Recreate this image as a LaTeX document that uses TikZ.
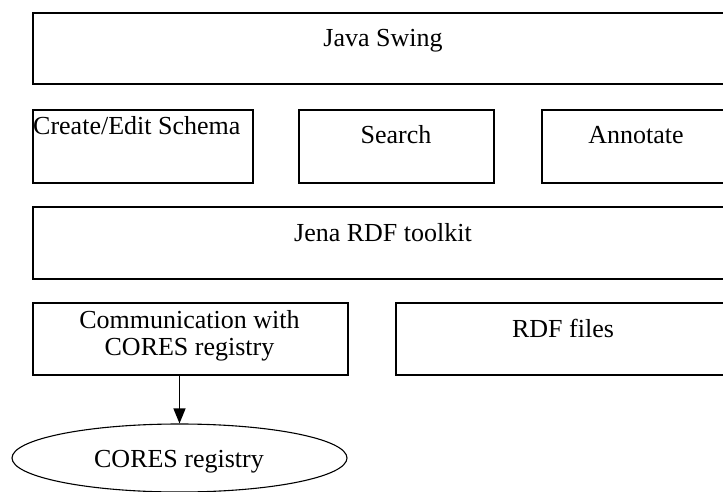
\documentclass[tikz,border=0pt]{standalone}
\usepackage{fontspec}
\setmainfont{Liberation Serif}
\usetikzlibrary{arrows.meta,shapes.geometric}
\begin{document}
\begin{tikzpicture}[x=1pt,y=-1pt,
  box/.style={draw=black,line width=1.6pt,rectangle,inner sep=0pt,anchor=north west},
  lbl/.style={inner sep=0pt,anchor=base,font=\fontsize{26}{27}\selectfont},
  conn/.style={line width=1.3pt,-{Triangle[length=15pt,width=12pt]}}]
\useasboundingbox (0,0) rectangle (723,492);
\clip (0,0) rectangle (723,492);
\fill[white] (0,0) rectangle (723,492);
% boxes
\node[box,minimum width=702pt,minimum height=71pt] (swing) at (32,12) {};
\node[box,minimum width=220pt,minimum height=73pt] (create) at (32,109) {};
\node[box,minimum width=195pt,minimum height=73pt] (search) at (298,109) {};
\node[box,minimum width=192pt,minimum height=73pt] (annot) at (541,109) {};
\node[box,minimum width=702pt,minimum height=72pt] (jena) at (32,206) {};
\node[box,minimum width=315pt,minimum height=72pt] (comm) at (32,302) {};
\node[box,minimum width=338pt,minimum height=72pt] (rdf) at (395,302) {};
\node[draw=black,line width=1.1pt,ellipse,minimum width=335pt,minimum height=68pt,inner sep=0pt] (cores) at (179.5,458) {};
% texts
\node[lbl] (tswing) at (383,47) {Java Swing};
\node[lbl,anchor=base west] (tcreate) at (33,135) {Create/Edit Schema};
\node[lbl] (tsearch) at (396,143) {Search};
\node[lbl] (tannot) at (636,143) {Annotate};
\node[lbl] (tjena) at (383,241) {Jena RDF toolkit};
\node[lbl] (tcomm1) at (189.5,328) {Communication with};
\node[lbl] (tcomm2) at (189.5,355) {CORES registry};
\node[lbl] (trdf) at (563,337) {RDF files};
\node[lbl] (tcores) at (179,467) {CORES registry};
% connector
\draw[conn] (comm.south -| cores.north) -- (cores.north);
\end{tikzpicture}
\end{document}
